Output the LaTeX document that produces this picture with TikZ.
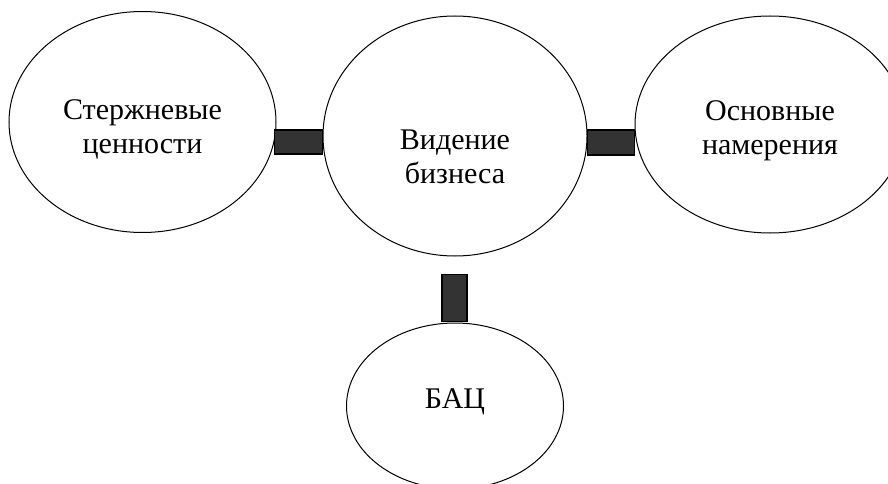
\documentclass[tikz,border=0pt]{standalone}
\usepackage{fontspec}
\setmainfont{Liberation Serif}
\usetikzlibrary{shapes.geometric,calc}
\definecolor{bargray}{HTML}{333333}
\tikzset{
  oval/.style={draw,ellipse,line width=1pt,fill=white,inner sep=0pt},
  txt/.style={align=center,font=\fontsize{30}{34}\selectfont},
  bar/.style={draw,fill=bargray,line width=1.1pt}
}
\begin{document}
\begin{tikzpicture}[x=1pt,y=-1pt]
    \clip (0,0) rectangle (888,484);
    %% ovals
    \node[oval,minimum width=267pt,minimum height=221pt,
          label={[txt,yshift=-7.5pt]center:Стержневые\\ценности}] (core) at (142.5,122) {};
    \node[oval,minimum width=264pt,minimum height=240pt,
          label={[txt,yshift=-21pt]center:Видение\\бизнеса}] (vision) at (455,136) {};
    \node[oval,minimum width=270pt,minimum height=217pt,
          label={[txt,yshift=-6pt]center:Основные\\намерения}] (aims) at (770,124.5) {};
    \node[oval,minimum width=217pt,minimum height=166pt,
          label={[txt,yshift=4pt]center:БАЦ}] (bac) at (455,406) {};
    %% bars
    \draw[bar] ($(core.east)+(-2,8)$) rectangle ($(vision.west)+(0,18)$);
    \draw[bar] ($(vision.east)+(0,-6)$) rectangle ($(aims.west)+(0,30.5)$);
    \draw[bar] ($(vision.south)+(-13,18)$) rectangle ($(bac.north)+(12,-1)$);
\end{tikzpicture}
\end{document}
